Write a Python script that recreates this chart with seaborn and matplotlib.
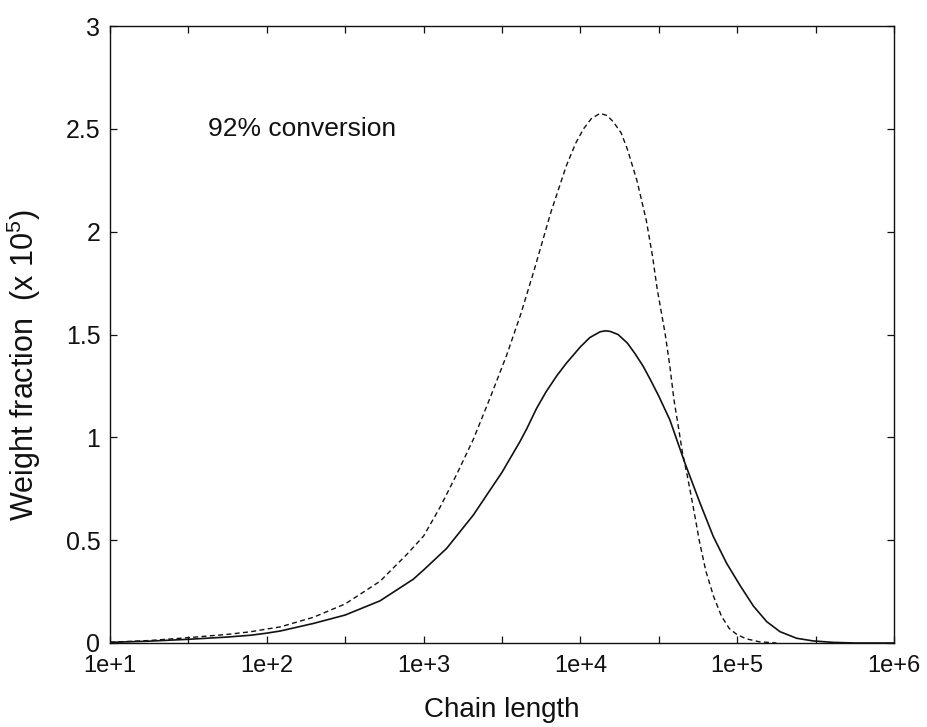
import numpy as np
import pandas as pd
import matplotlib
matplotlib.use("Agg")
import matplotlib.pyplot as plt
import seaborn as sns

# log10(chain length) and weight fraction (x 10^5)
solid_logn = [1.0, 1.25, 1.5, 1.75, 1.9, 2.0, 2.084, 2.297, 2.5, 2.722, 2.934, 3.0, 3.147,
              3.317, 3.5, 3.615, 3.66, 3.72, 3.78, 3.85, 3.91, 4.0, 4.06, 4.125, 4.16, 4.19,
              4.24, 4.30, 4.35, 4.40, 4.45, 4.5, 4.571, 4.667, 4.763, 4.848, 4.933, 5.018,
              5.103, 5.188, 5.273, 5.379, 5.485, 5.613, 5.75, 6.0]
solid_w = [0.003, 0.009, 0.018, 0.029, 0.038, 0.048, 0.058, 0.095, 0.136, 0.205, 0.31, 0.355,
           0.46, 0.622, 0.83, 0.98, 1.045, 1.14, 1.22, 1.30, 1.36, 1.44, 1.485, 1.513, 1.518,
           1.515, 1.50, 1.458, 1.405, 1.346, 1.275, 1.20, 1.084, 0.874, 0.68, 0.517, 0.387,
           0.28, 0.18, 0.104, 0.055, 0.023, 0.010, 0.003, 0.0, 0.0]

dashed_logn = [1.0, 1.25, 1.5, 1.75, 1.9, 2.0, 2.084, 2.297, 2.5, 2.722, 2.892, 3.0, 3.105,
               3.211, 3.317, 3.423, 3.53, 3.62, 3.70, 3.81, 3.91, 3.97, 4.02, 4.07, 4.125,
               4.17, 4.21, 4.26, 4.30, 4.36, 4.42, 4.46, 4.49, 4.54, 4.571, 4.597, 4.625,
               4.65, 4.68, 4.72, 4.76, 4.80, 4.85, 4.90, 4.95, 5.0, 5.06, 5.14, 5.25]
dashed_w = [0.004, 0.012, 0.026, 0.042, 0.055, 0.068, 0.078, 0.125, 0.19, 0.30, 0.43, 0.52,
            0.66, 0.82, 0.99, 1.19, 1.40, 1.60, 1.80, 2.09, 2.32, 2.43, 2.50, 2.55, 2.575,
            2.565, 2.534, 2.48, 2.40, 2.25, 2.056, 1.88, 1.72, 1.506, 1.343, 1.181, 1.05,
            0.93, 0.82, 0.66, 0.49, 0.35, 0.225, 0.13, 0.07, 0.04, 0.02, 0.006, 0.0]

xtick_labels = ["1e+1", "1e+2", "1e+3", "1e+4", "1e+5", "1e+6"]
ytick_vals = [0, 0.5, 1, 1.5, 2, 2.5, 3]
ytick_labels = ["0", "0.5", "1", "1.5", "2", "2.5", "3"]

sns.set_theme(style="ticks")
plt.rcParams["font.family"] = ["Liberation Sans", "DejaVu Sans"]
plt.rcParams["mathtext.fontset"] = "custom"
plt.rcParams["mathtext.rm"] = "Liberation Sans"
plt.rcParams["mathtext.it"] = "Liberation Sans"

df_s = pd.DataFrame({"n": 10 ** np.array(solid_logn), "w": solid_w})
df_d = pd.DataFrame({"n": 10 ** np.array(dashed_logn), "w": dashed_w})

fig = plt.figure(figsize=(9.28, 7.27), dpi=100)
ax = fig.add_axes([110 / 928, (727 - 643) / 727, 784 / 928, 617 / 727])

sns.lineplot(data=df_s, x="n", y="w", ax=ax, color="#111111", lw=1.2, sort=False)
sns.lineplot(data=df_d, x="n", y="w", ax=ax, color="#111111", lw=1.0, sort=False,
             linestyle=(0, (3.6, 2.4)))

ax.set_xscale("log")
ax.set_xlim(10, 1e6)
ax.set_ylim(0, 3)

half = [10 ** (e / 2) for e in range(2, 13)]
ax.set_xticks(half)
labels = []
for e in range(2, 13):
    labels.append(xtick_labels[e // 2 - 1] if e % 2 == 0 else "")
ax.set_xticklabels(labels, fontsize=17)
ax.xaxis.set_minor_locator(matplotlib.ticker.NullLocator())
ax.set_yticks(ytick_vals)
ax.set_yticklabels(ytick_labels, fontsize=18)

ax.tick_params(axis="both", which="major", direction="in", length=5, width=0.9,
               top=True, right=True, colors="#111111")
ax.tick_params(axis="x", pad=9)
ax.tick_params(axis="y", pad=7)
for s in ax.spines.values():
    s.set_visible(True)
    s.set_color("#111111")
    s.set_linewidth(1.0)

ax.set_xlabel("Chain length", fontsize=20, color="#111111", labelpad=14)
ax.set_ylabel("Weight fraction  (x 10$^5$)", fontsize=22, color="#111111")
ax.yaxis.set_label_coords(-0.085, 0.45)

ax.text(10 ** 1.625, 2.5, "92% conversion", fontsize=19, color="#111111",
        ha="left", va="center")

fig.savefig("out.png", dpi=100)
